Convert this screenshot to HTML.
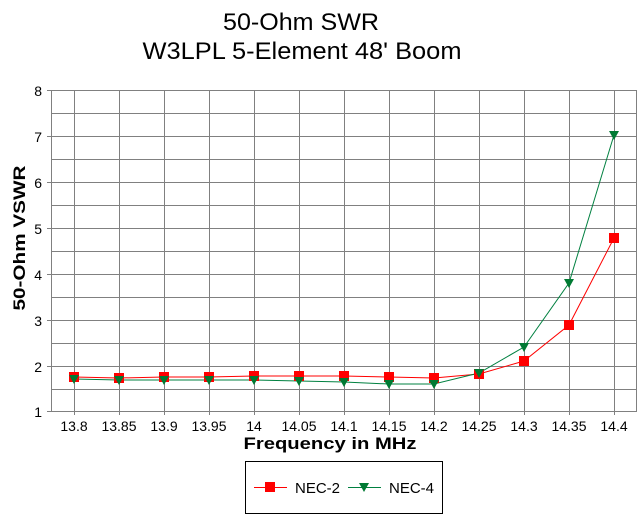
<!DOCTYPE html>
<html><head><style>body{margin:0;background:#fff}svg{display:block}text{font-family:"Liberation Sans",sans-serif}</style></head><body>
<svg width="643" height="517" xmlns="http://www.w3.org/2000/svg">
<rect width="643" height="517" fill="#fff"/>
<text x="301" y="30" font-size="24" text-anchor="middle" textLength="156" lengthAdjust="spacingAndGlyphs">50-Ohm SWR</text>
<text x="302" y="59" font-size="24" text-anchor="middle" textLength="319" lengthAdjust="spacingAndGlyphs">W3LPL 5-Element 48' Boom</text>
<g stroke="#808080" stroke-width="1">
<line x1="51" y1="90.5" x2="637" y2="90.5"/><line x1="51" y1="113.5" x2="637" y2="113.5"/><line x1="51" y1="136.5" x2="637" y2="136.5"/><line x1="51" y1="159.5" x2="637" y2="159.5"/><line x1="51" y1="182.5" x2="637" y2="182.5"/><line x1="51" y1="205.5" x2="637" y2="205.5"/><line x1="51" y1="228.5" x2="637" y2="228.5"/><line x1="51" y1="251.5" x2="637" y2="251.5"/><line x1="51" y1="274.5" x2="637" y2="274.5"/><line x1="51" y1="297.5" x2="637" y2="297.5"/><line x1="51" y1="320.5" x2="637" y2="320.5"/><line x1="51" y1="343.5" x2="637" y2="343.5"/><line x1="51" y1="366.5" x2="637" y2="366.5"/><line x1="51" y1="389.5" x2="637" y2="389.5"/>
<line x1="74.5" y1="90" x2="74.5" y2="415"/><line x1="119.5" y1="90" x2="119.5" y2="415"/><line x1="164.5" y1="90" x2="164.5" y2="415"/><line x1="209.5" y1="90" x2="209.5" y2="415"/><line x1="254.5" y1="90" x2="254.5" y2="415"/><line x1="299.5" y1="90" x2="299.5" y2="415"/><line x1="344.5" y1="90" x2="344.5" y2="415"/><line x1="389.5" y1="90" x2="389.5" y2="415"/><line x1="434.5" y1="90" x2="434.5" y2="415"/><line x1="479.5" y1="90" x2="479.5" y2="415"/><line x1="524.5" y1="90" x2="524.5" y2="415"/><line x1="569.5" y1="90" x2="569.5" y2="415"/><line x1="614.5" y1="90" x2="614.5" y2="415"/>
<line x1="51.5" y1="90" x2="51.5" y2="412"/><line x1="636.5" y1="90" x2="636.5" y2="412"/><line x1="47" y1="411.5" x2="637" y2="411.5"/>
<line x1="47" y1="90.5" x2="51" y2="90.5"/><line x1="47" y1="136.5" x2="51" y2="136.5"/><line x1="47" y1="182.5" x2="51" y2="182.5"/><line x1="47" y1="228.5" x2="51" y2="228.5"/><line x1="47" y1="274.5" x2="51" y2="274.5"/><line x1="47" y1="320.5" x2="51" y2="320.5"/><line x1="47" y1="366.5" x2="51" y2="366.5"/>
</g>
<g font-size="14" text-anchor="end">
<text x="42" y="96">8</text><text x="42" y="142">7</text><text x="42" y="188">6</text><text x="42" y="234">5</text><text x="42" y="280">4</text><text x="42" y="326">3</text><text x="42" y="372">2</text><text x="42" y="417">1</text>
</g>
<g font-size="14" text-anchor="middle">
<text x="74" y="431">13.8</text><text x="119" y="431">13.85</text><text x="164" y="431">13.9</text><text x="209" y="431">13.95</text><text x="254" y="431">14</text><text x="299" y="431">14.05</text><text x="344" y="431">14.1</text><text x="389" y="431">14.15</text><text x="434" y="431">14.2</text><text x="479" y="431">14.25</text><text x="524" y="431">14.3</text><text x="569" y="431">14.35</text><text x="614" y="431">14.4</text>
</g>
<text x="330" y="449" font-size="17" font-weight="bold" text-anchor="middle" textLength="173" lengthAdjust="spacingAndGlyphs">Frequency in MHz</text>
<text transform="translate(25,238) rotate(-90)" font-size="17" font-weight="bold" text-anchor="middle" textLength="145" lengthAdjust="spacingAndGlyphs">50-Ohm VSWR</text>
<polyline fill="none" stroke="#f00" stroke-width="1" points="74,377 119,378 164,377 209,377 254,376 299,376 344,376 389,377 434,378 479,374 524,361 569,325 614,238"/>
<polyline fill="none" stroke="#008040" stroke-width="1" points="74,379 119,380 164,380 209,380 254,380 299,381 344,382 389,384 434,384 479,373 524,347 569,283 614,135"/>
<g fill="#f00">
<rect x="69" y="372" width="10" height="10"/><rect x="114" y="373" width="10" height="10"/><rect x="159" y="372" width="10" height="10"/><rect x="204" y="372" width="10" height="10"/><rect x="249" y="371" width="10" height="10"/><rect x="294" y="371" width="10" height="10"/><rect x="339" y="371" width="10" height="10"/><rect x="384" y="372" width="10" height="10"/><rect x="429" y="373" width="10" height="10"/><rect x="474" y="369" width="10" height="10"/><rect x="519" y="356" width="10" height="10"/><rect x="564" y="320" width="10" height="10"/><rect x="609" y="233" width="10" height="10"/>
</g>
<g fill="#007a33">
<path d="M69,375h10l-5,9z"/><path d="M114,376h10l-5,9z"/><path d="M159,376h10l-5,9z"/><path d="M204,376h10l-5,9z"/><path d="M249,376h10l-5,9z"/><path d="M294,377h10l-5,9z"/><path d="M339,378h10l-5,9z"/><path d="M384,380h10l-5,9z"/><path d="M429,380h10l-5,9z"/><path d="M474,369h10l-5,9z"/><path d="M519,343h10l-5,9z"/><path d="M564,279h10l-5,9z"/><path d="M609,131h10l-5,9z"/>
</g>
<rect x="245.5" y="461.5" width="197" height="52" fill="none" stroke="#000"/>
<line x1="254" y1="487.5" x2="287" y2="487.5" stroke="#f00"/><rect x="265" y="482" width="10" height="10" fill="#f00"/>
<text x="295" y="493" font-size="15">NEC-2</text>
<line x1="348" y1="487.5" x2="381" y2="487.5" stroke="#008040"/><path d="M359,483h10l-5,9z" fill="#007a33"/>
<text x="389" y="493" font-size="15">NEC-4</text>
</svg>
</body></html>
